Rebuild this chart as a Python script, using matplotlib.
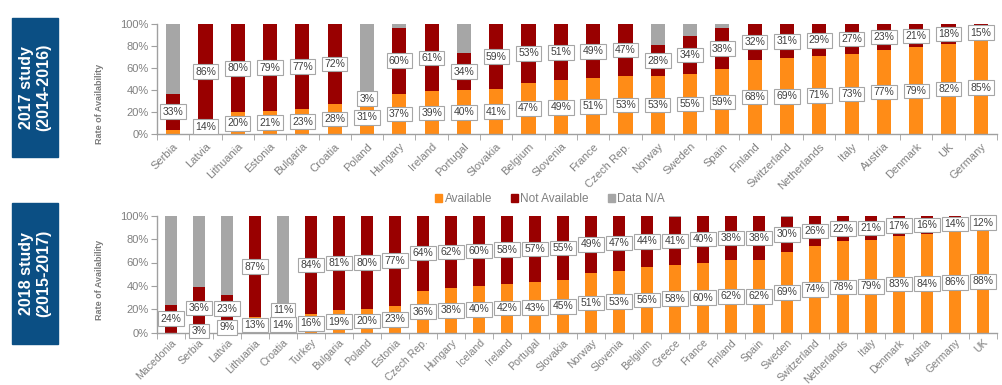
import matplotlib
matplotlib.use("Agg")
import matplotlib.pyplot as plt
from matplotlib.patches import Rectangle, Patch
import numpy as np

plt.rcParams['font.family'] = ['Liberation Sans', 'DejaVu Sans']

# ---------------- data ----------------
countries17 = ['Serbia', 'Latvia', 'Lithuania', 'Estonia', 'Bulgaria', 'Croatia', 'Poland',
               'Hungary', 'Ireland', 'Portugal', 'Slovakia', 'Belgium', 'Slovenia', 'France',
               'Czech Rep.', 'Norway', 'Sweden', 'Spain', 'Finland', 'Switzerland',
               'Netherlands', 'Italy', 'Austria', 'Denmark', 'UK', 'Germany']
avail17 = [4, 14, 20, 21, 23, 28, 31, 37, 39, 40, 41, 47, 49, 51, 53, 53, 55, 59, 68, 69,
           71, 73, 77, 79, 82, 85]
notavail17 = [33, 86, 80, 79, 77, 72, 3, 60, 61, 34, 59, 53, 51, 49, 47, 28, 34, 38, 32, 31,
              29, 27, 23, 21, 18, 15]
avail17_labels = [None, 14, 20, 21, 23, 28, 31, 37, 39, 40, 41, 47, 49, 51, 53, 53, 55, 59,
                  68, 69, 71, 73, 77, 79, 82, 85]
notavail17_labels = notavail17

countries18 = ['Macedonia', 'Serbia', 'Latvia', 'Lithuania', 'Croatia', 'Turkey', 'Bulgaria',
               'Poland', 'Estonia', 'Czech Rep.', 'Hungary', 'Iceland', 'Ireland', 'Portugal',
               'Slovakia', 'Norway', 'Slovenia', 'Belgium', 'Greece', 'France', 'Finland',
               'Spain', 'Sweden', 'Switzerland', 'Netherlands', 'Italy', 'Denmark', 'Austria',
               'Germany', 'UK']
avail18 = [0, 3, 9, 13, 14, 16, 19, 20, 23, 36, 38, 40, 42, 43, 45, 51, 53, 56, 58, 60, 62,
           62, 69, 74, 78, 79, 83, 84, 86, 88]
notavail18 = [24, 36, 23, 87, 11, 84, 81, 80, 77, 64, 62, 60, 58, 57, 55, 49, 47, 44, 41, 40,
              38, 38, 30, 26, 22, 21, 17, 16, 14, 12]
avail18_labels = [None] + avail18[1:]
notavail18_labels = notavail18

legend_labels = ['Available', 'Not Available', 'Data N/A']
panel_titles = ['2017 study\n(2014-2016)', '2018 study\n(2015-2017)']
ylabel_text = 'Rate of Availability'

# ---------------- style ----------------
C_AV = '#FF8C17'
C_NA = '#990000'
C_ND = '#A6A6A6'
GRAY = '#808080'
AXC = '#A0A0A0'
BLUE = '#0B4F84'

fig = plt.figure(figsize=(10.02, 3.85), dpi=100)


def draw_panel(ax, countries, av, na, av_lab, na_lab, width, tick_size, tick_pad):
    x = np.arange(len(countries))
    av = np.array(av, float)
    na = np.array(na, float)
    nd = np.clip(100 - av - na, 0, None)
    ax.bar(x, av, width, color=C_AV, zorder=2)
    ax.bar(x, na, width, bottom=av, color=C_NA, zorder=2)
    ax.bar(x, nd, width, bottom=av + na, color=C_ND, zorder=2)
    box = dict(boxstyle='square,pad=0.22', fc='white', ec='#A6A6A6', lw=0.8)
    for i in range(len(countries)):
        if av_lab[i] is not None:
            ax.text(x[i], av[i] / 2, f'{av_lab[i]}%', ha='center', va='center',
                    fontsize=7.5, color='#404040', bbox=box, zorder=4)
        if na_lab[i] is not None:
            ax.text(x[i], av[i] + na[i] / 2, f'{na_lab[i]}%', ha='center', va='center',
                    fontsize=7.5, color='#404040', bbox=box, zorder=4)
    ax.set_xlim(-0.5, len(countries) - 0.5)
    ax.set_ylim(0, 100)
    ax.set_yticks([0, 20, 40, 60, 80, 100])
    ax.set_yticklabels([f'{v}%' for v in [0, 20, 40, 60, 80, 100]])
    ax.set_xticks(x)
    ax.set_xticklabels(countries, rotation=45, ha='right', rotation_mode='anchor')
    ax.set_xticks(np.arange(len(countries) + 1) - 0.5, minor=True)
    ax.tick_params(axis='x', which='major', length=0, pad=tick_pad, labelsize=tick_size,
                   labelcolor=GRAY)
    ax.tick_params(axis='x', which='minor', length=4, color=AXC, direction='out')
    ax.tick_params(axis='y', length=4, color=AXC, labelsize=8, labelcolor=GRAY, pad=2)
    for s in ['top', 'right']:
        ax.spines[s].set_visible(False)
    for s in ['left', 'bottom']:
        ax.spines[s].set_color(AXC)
        ax.spines[s].set_linewidth(1.0)


W, H = 1002.0, 385.0
ax1 = fig.add_axes([157 / W, 1 - 134.3 / H, 840 / W, 110 / H])
draw_panel(ax1, countries17, avail17, notavail17, avail17_labels, notavail17_labels, 0.44,
           8, 5)
ax2 = fig.add_axes([157 / W, 1 - 332.7 / H, 840 / W, 117 / H])
draw_panel(ax2, countries18, avail18, notavail18, avail18_labels, notavail18_labels, 0.43,
           7.6, 3.5)

# blue side boxes
for (y0, y1), title in zip([(18.3, 157.3), (203, 344)], panel_titles):
    fig.patches.append(Rectangle((11.7 / W, 1 - y1 / H), 46.6 / W, (y1 - y0) / H,
                                 transform=fig.transFigure, color=BLUE, zorder=0))
    fig.text(35 / W, 1 - (y0 + y1) / 2 / H, title, rotation=90, ha='center', va='center',
             color='white', fontsize=11.5, fontweight='bold', linespacing=1.15)

# y labels
for yc in [104, 280]:
    fig.text(99 / W, 1 - yc / H, ylabel_text, rotation=90, ha='center', va='center',
             fontsize=6.5, fontweight='bold', color='#7A7A7A')

handles = [Patch(color=c) for c in [C_AV, C_NA, C_ND]]
leg = fig.legend(handles, legend_labels, loc='center', bbox_to_anchor=(550 / W, 1 - 199 / H),
                 ncol=3, frameon=False, fontsize=8.5, handlelength=0.6, handleheight=0.6,
                 handletextpad=0.2, columnspacing=1.6, borderaxespad=0, borderpad=0)
for t in leg.get_texts():
    t.set_color(GRAY)

fig.savefig('out.png', dpi=100)
